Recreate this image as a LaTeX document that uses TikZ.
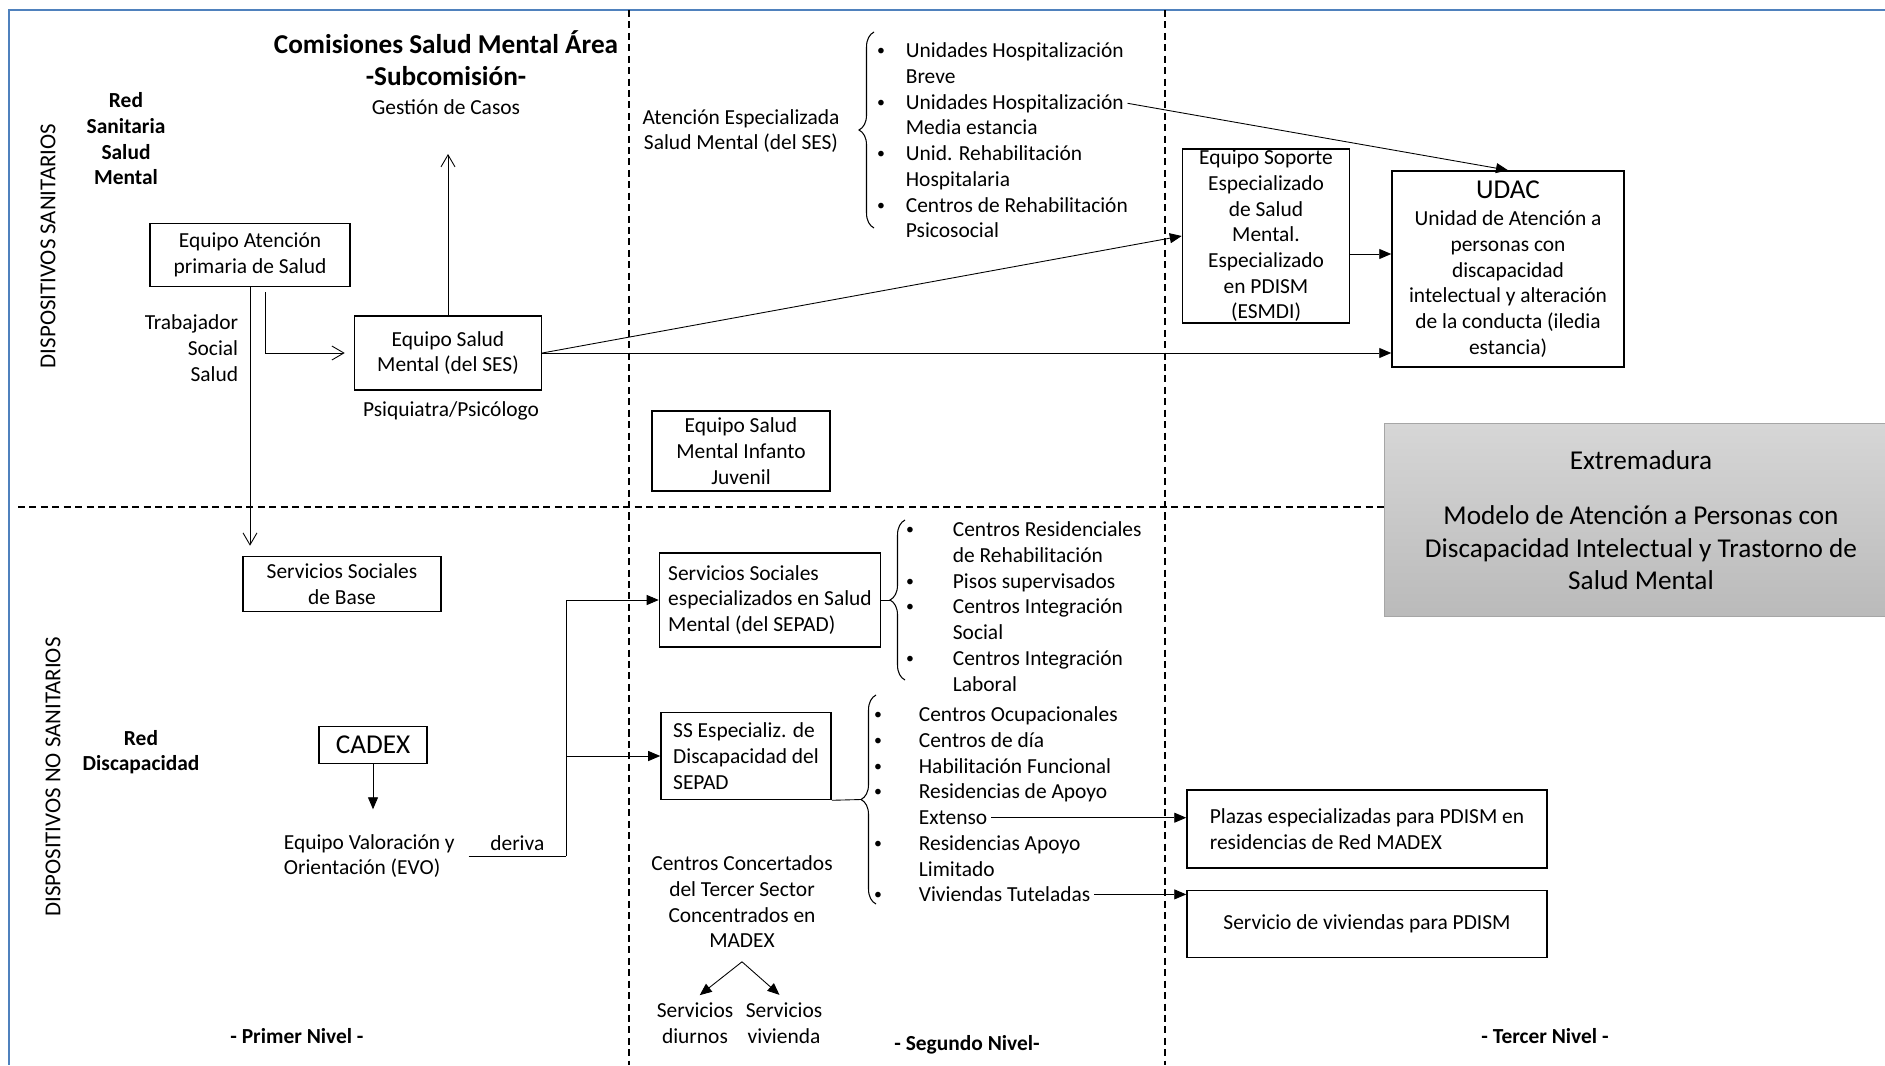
\documentclass[tikz,border=0pt]{standalone}
\usepackage{fontspec}
\setmainfont{Carlito}
\usetikzlibrary{arrows.meta, positioning, decorations.pathreplacing}
\definecolor{frameblue}{RGB}{79,129,189}

\begin{document}
\begin{tikzpicture}[x=0.02cm, y=-0.02cm,
    font=\fontsize{12.2}{14.6}\selectfont,
    box/.style={draw, line width=0.9pt, align=center, inner sep=2pt},
    txt/.style={align=center, inner sep=2pt},
    big/.style={font=\fontsize{15.5}{18.5}\selectfont},
    bld/.style={font=\fontsize{12.2}{14.6}\selectfont\bfseries, align=center},
    item/.style={anchor=base west, inner sep=2pt},
    dot/.style={anchor=base, inner sep=0pt, font=\fontsize{9}{10}\selectfont},
    fil/.style={-{Triangle[length=2.4mm,width=2mm]}, line width=0.5pt},
    opn/.style={-{Straight Barb[length=2.4mm,width=2.8mm]}, line width=0.5pt},
    sep/.style={dash pattern=on 4pt off 2.5pt, line width=0.6pt},
    brc/.style={decorate, decoration={brace, amplitude=0.3cm}, line width=0.6pt}]

\useasboundingbox (0,0) rectangle (1885,1065);

% marco y zonas
\draw[line width=1.2pt, frameblue] (1885,10) -- (9,10) -- (9,1065);
\draw[sep] (629,10) -- (629,1065);
\draw[sep] (1165,10) -- (1165,1065);
\draw[sep] (18,507) -- (1384,507);

\node[draw=black!35, top color=black!16, bottom color=black!27, minimum width=10.28cm,
      minimum height=3.86cm, align=center, big] (ext) at (1641,520)
      {Extremadura\\[13pt]Modelo de Atención a Personas con\\Discapacidad Intelectual y Trastorno de\\Salud Mental};

\node[rotate=90, font=\fontsize{13}{15}\selectfont] (dsan) at (48,246) {DISPOSITIVOS SANITARIOS};
\node[rotate=90, font=\fontsize{13}{15}\selectfont] (dnosan) at (53,777) {DISPOSITIVOS NO SANITARIOS};
\node[bld] (rsan) at (126,139) {Red\\Sanitaria\\Salud\\Mental};
\node[bld] (rdis) at (141,752) {Red\\Discapacidad};

% primer nivel
\node[txt, font=\fontsize{15.5}{18.5}\selectfont\bfseries] (com) at (446,58) {Comisiones Salud Mental Área\\-Subcomisión-};
\node[txt] (gest) at (446,107) {Gestión de Casos};
\coordinate (comarr) at (448,154);

\node[box, minimum width=4cm, minimum height=1.26cm] (aps) at (250,255) {Equipo Atención\\primaria de Salud};
\node[box, minimum width=3.74cm, minimum height=1.48cm] (esm) at (448,353) {Equipo Salud\\Mental (del SES)};
\node[txt] (psi) at (451,411) {Psiquiatra/Psicólogo};
\node[txt, align=right, anchor=east] (tss) at (242,348) {Trabajador\\Social\\Salud};
\node[box, minimum width=3.96cm, minimum height=1.1cm] (ssb) at (342,584) {Servicios Sociales\\de Base};
\node[box, big, minimum width=2.16cm, minimum height=0.74cm, inner sep=1pt] (cadex) at (373,745) {CADEX};
\node[txt, align=left, anchor=west] (evo) at (280,856) {Equipo Valoración y\\Orientación (EVO)};

\draw[opn] (esm.north) -- (comarr);
\draw[opn, shorten >=0.18cm] ([xshift=0.3cm, yshift=-0.1cm]aps.south) |- (esm.west);
\draw[opn, shorten >=0.2cm] (aps.south) -- (aps.south |- ssb.north);
\draw[fil] (cadex.south) -- ([yshift=-0.9cm]cadex.south);

% segundo nivel
\node[txt] (aesm) at (741,131) {Atención Especializada\\Salud Mental (del SES)};
\draw[brc] (874,228) -- (874,32);
\foreach \t [count=\i] in {Unidades Hospitalización, Breve, Unidades Hospitalización, Media estancia,
    Unid. Rehabilitación, Hospitalaria, Centros de Rehabilitación, Psicosocial}
  \node[item] (ha\i) at (902,{57.5+25.75*(\i-1)}) {\t};
\foreach \i in {1,3,5,7}
  \node[dot] at (881,{55.5+25.75*(\i-1)}) {\textbullet};

\node[box, minimum width=3.56cm, minimum height=1.6cm] (esmij) at (741,451) {Equipo Salud\\Mental Infanto\\Juvenil};

\node[box, align=left, minimum width=4.42cm, minimum height=1.88cm] (sesm) at (770,600) {Servicios Sociales\\especializados en Salud\\Mental (del SEPAD)};
\draw[brc] (905,680) -- coordinate[midway, xshift=-0.3cm] (b2) (905,520);
\draw[line width=0.5pt] (sesm.east) -- (b2);
\foreach \t [count=\i] in {Centros Residenciales, de Rehabilitación, Pisos supervisados,
    Centros Integración, Social, Centros Integración, Laboral}
  \node[item] (sb\i) at (949,{536.5+25.75*(\i-1)}) {\t};
\foreach \i in {1,3,4,6}
  \node[dot] at (910,{534.5+25.75*(\i-1)}) {\textbullet};

\node[box, align=left, minimum width=3.4cm, minimum height=1.74cm] (ssd) at (746,756) {SS Especializ. de\\Discapacidad del\\SEPAD};
\draw[brc] (876,904) -- coordinate[midway, xshift=-0.3cm] (b3) (876,695);
\draw[line width=0.5pt] (ssd.south east) -- (b3);
\foreach \t [count=\i] in {Centros Ocupacionales, Centros de día, Habilitación Funcional,
    Residencias de Apoyo, Extenso, Residencias Apoyo, Limitado, Viviendas Tuteladas}
  \node[item] (sc\i) at (915,{721.5+25.75*(\i-1)}) {\t};
\foreach \i in {1,2,3,4,6,8}
  \node[dot] at (878,{719.5+25.75*(\i-1)}) {\textbullet};

\coordinate (der) at (566,856);
\draw[line width=0.5pt] ([xshift=0.2cm]evo.east) -- node[above, inner sep=3pt] (drv) {deriva} (der);
\draw[fil] (der) |- (sesm.west);
\draw[fil] (der |- ssd.west) -- (ssd.west);

\node[txt] (cct) at (742,902) {Centros Concertados\\del Tercer Sector\\Concentrados en\\MADEX};
\node[txt] (sdi) at (695,1023) {Servicios\\diurnos};
\node[txt] (svi) at (784,1023) {Servicios\\vivienda};
\coordinate (fork) at ([yshift=-0.2cm]cct.south);
\draw[fil, shorten >=0.12cm] (fork) -- (sdi.north);
\draw[fil, shorten >=0.12cm] (fork) -- (svi.north);

% tercer nivel
\node[box, minimum width=3.34cm, minimum height=3.48cm, inner ysep=0pt] (esmdi) at (1266,236)
    {Equipo Soporte\\Especializado\\de Salud\\Mental.\\Especializado\\en PDISM\\(ESMDI)};
\node[box, minimum width=4.64cm, minimum height=3.92cm] (udac) at (1508,269)
    {{\fontsize{15.5}{18.5}\selectfont UDAC}\\[1pt]Unidad de Atención a\\personas con\\discapacidad\\intelectual y alteración\\de la conducta (iledia\\estancia)};
\node[box, align=left, minimum width=7.2cm, minimum height=1.56cm] (plz) at (1367,829) {Plazas especializadas para PDISM en\\residencias de Red MADEX};
\node[box, minimum width=7.2cm, minimum height=1.34cm] (viv) at (1367,924) {Servicio de viviendas para PDISM};

\path[fil]
    (esm.east)
        edge (esmdi.west)
        edge (esm.east -| udac.west)
    ([yshift=-0.36cm]esmdi.east)
        edge ([yshift=-0.36cm]esmdi.east -| udac.west)
    (ha3.east)
        edge (udac.north);
\draw[fil] (sc5.east) -- (sc5.east -| plz.west);
\draw[fil] (sc8.east) -- (sc8.east -| viv.west);

\node[bld] (n1) at (297,1036) {- Primer Nivel -};
\node[bld] (n2) at (967,1045) {- Segundo Nivel-};
\node[bld] (n3) at (1545,1036) {- Tercer Nivel -};
\end{tikzpicture}
\end{document}
